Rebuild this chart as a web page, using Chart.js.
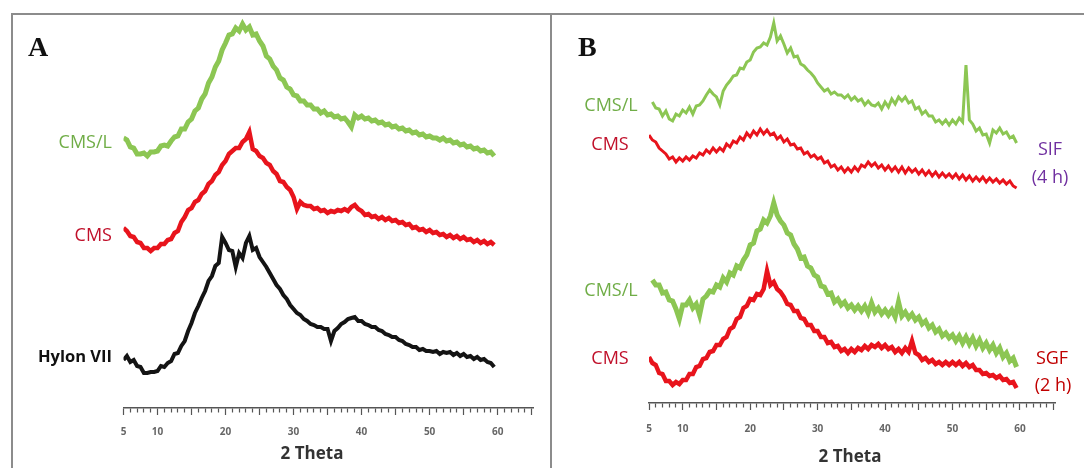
<!DOCTYPE html>
<html>
<head>
<meta charset="utf-8">
<script src="https://cdn.jsdelivr.net/npm/chart.js@4.4.1/dist/chart.umd.min.js"></script>
<style>
  html, body { margin: 0; padding: 0; background: #fff; }
  #wrap { position: relative; width: 1084px; height: 468px; overflow: hidden; background: #fff; font-family: "Open Sans", sans-serif; }
  canvas { position: absolute; }
  .frame { position: absolute; background: #8c8c8c; }
  .lbl { position: absolute; white-space: nowrap; transform: translate(-100%, -50%); font-size: 18px; line-height: 1; }
  .ctr { position: absolute; white-space: nowrap; transform: translate(-50%, -50%); font-size: 18px; line-height: 1; }
  .axt { position: absolute; white-space: nowrap; transform: translate(-50%, -50%); font-size: 17px; font-weight: bold; line-height: 1; color: #333; }
  .panel { position: absolute; font-family: "Liberation Serif", "Times New Roman", serif; font-weight: bold; font-size: 28px; line-height: 1; color: #111; }
</style>
</head>
<body>
<div id="wrap">
  <div class="frame" style="left:11px;top:13px;width:1073px;height:1.5px"></div>
  <div class="frame" style="left:11px;top:13px;width:1.5px;height:455px"></div>
  <div class="frame" style="left:550px;top:13px;width:1.5px;height:455px"></div>

  <canvas id="chartA" width="539" height="454" style="left:12px;top:14px"></canvas>
  <canvas id="chartB" width="533" height="454" style="left:551px;top:14px"></canvas>

  <div class="panel" style="left:28px;top:33px">A</div>
  <div class="panel" style="left:578px;top:33px">B</div>

  <div class="axt" style="left:312px;top:452px">2 Theta</div>
  <div class="axt" style="left:850px;top:455px">2 Theta</div>

  <div class="lbl" style="left:112px;top:141px;color:#70ad47">CMS/L</div>
  <div class="lbl" style="left:112px;top:234px;color:#c0102a">CMS</div>
  <div class="lbl" style="left:112px;top:356px;color:#111;font-weight:bold;font-size:16.5px">Hylon VII</div>

  <div class="ctr" style="left:611px;top:104px;color:#70ad47">CMS/L</div>
  <div class="ctr" style="left:610px;top:143px;color:#c0102a">CMS</div>
  <div class="ctr" style="left:611px;top:289px;color:#70ad47">CMS/L</div>
  <div class="ctr" style="left:610px;top:357px;color:#c0102a">CMS</div>

  <div class="ctr" style="left:1050px;top:148px;color:#7030a0">SIF</div>
  <div class="ctr" style="left:1050px;top:176px;color:#7030a0">(4 h)</div>
  <div class="ctr" style="left:1052px;top:357px;color:#c00000">SGF</div>
  <div class="ctr" style="left:1053px;top:384px;color:#c00000">(2 h)</div>
</div>

<script>
// 2θ sampling (degrees)
const twoTheta = [
  5, 5.5, 6, 6.5, 7, 7.5, 8, 8.5, 9, 9.5,
  10, 10.5, 11, 11.5, 12, 12.5, 13, 13.5, 14, 14.5,
  15, 15.5, 16, 16.5, 17, 17.5, 18, 18.5, 19, 19.5,
  20, 20.5, 21, 21.5, 22, 22.5, 23, 23.5, 24, 24.5,
  25, 25.5, 26, 26.5, 27, 27.5, 28, 28.5, 29, 29.5,
  30, 30.5, 31, 31.5, 32, 32.5, 33, 33.5, 34, 34.5,
  35, 35.5, 36, 36.5, 37, 37.5, 38, 38.5, 39, 39.5,
  40, 40.5, 41, 41.5, 42, 42.5, 43, 43.5, 44, 44.5,
  45, 45.5, 46, 46.5, 47, 47.5, 48, 48.5, 49, 49.5,
  50, 50.5, 51, 51.5, 52, 52.5, 53, 53.5, 54, 54.5,
  55, 55.5, 56, 56.5, 57, 57.5, 58, 58.5, 59, 59.5
];

// labelled positions on the 2θ axis
const tickLabels = [5, 10, 20, 30, 40, 50, 60];

// Panel A — stacked intensities (a.u.)
const cmsL_A = [
  270, 268, 261, 260, 254, 254, 255, 252, 256, 256,
  257, 262, 263, 262, 267, 271, 272, 279, 279, 286,
  289, 297, 300, 309, 314, 325, 331, 341, 347, 358,
  365, 373, 374, 380, 377, 384, 378, 381, 373, 374,
  367, 362, 352, 349, 342, 338, 330, 328, 321, 319,
  313, 312, 307, 307, 303, 303, 299, 299, 295, 297,
  293, 294, 291, 292, 289, 290, 286, 281, 293, 290,
  292, 289, 290, 287, 288, 285, 286, 283, 284, 281,
  282, 279, 280, 277, 278, 275, 276, 273, 274, 271,
  272, 270, 270, 268, 270, 267, 268, 265, 266, 263,
  264, 261, 262, 259, 260, 257, 258, 255, 256, 252
];
const cms_A = [
  180, 177, 172, 171, 166, 165, 160, 160, 157, 160,
  160, 164, 164, 168, 169, 175, 177, 186, 191, 198,
  200, 206, 208, 214, 217, 224, 227, 233, 236, 243,
  247, 254, 257, 260, 260, 266, 269, 276, 259, 257,
  252, 250, 245, 243, 237, 234, 227, 226, 221, 218,
  211, 199, 206, 203, 202, 202, 199, 200, 197, 198,
  195, 197, 196, 198, 197, 199, 197, 201, 203, 199,
  197, 193, 194, 191, 192, 189, 191, 188, 190, 187,
  188, 185, 186, 183, 184, 180, 181, 178, 179, 176,
  178, 175, 176, 173, 174, 171, 173, 170, 172, 169,
  171, 168, 169, 166, 168, 165, 167, 164, 166, 163
];
const hylonVII = [
  48, 52, 46, 48, 42, 41, 35, 35, 36, 36,
  37, 42, 41, 45, 47, 54, 55, 62, 67, 77,
  85, 95, 102, 110, 117, 127, 132, 142, 145, 171,
  165, 158, 157, 141, 155, 150, 165, 172, 158, 160,
  151, 146, 141, 135, 129, 123, 119, 113, 109, 103,
  99, 95, 93, 89, 87, 84, 83, 81, 81, 79,
  79, 67, 77, 80, 84, 86, 89, 90, 91, 87,
  87, 84, 83, 81, 81, 78, 77, 74, 73, 71,
  71, 68, 67, 64, 63, 61, 61, 58, 59, 57,
  57, 56, 57, 54, 56, 55, 56, 53, 55, 52,
  54, 51, 52, 49, 51, 48, 49, 46, 45, 41
];

// Panel B — after SIF (4 h) and SGF (2 h), stacked intensities (a.u.)
const cmsL_SIF = [
  null, 301, 295, 294, 287, 292, 284, 282, 289, 287,
  293, 290, 296, 289, 297, 298, 302, 308, 313, 309,
  306, 298, 312, 318, 322, 327, 328, 335, 334, 341,
  343, 351, 355, 356, 360, 358, 366, 380, 362, 367,
  359, 350, 355, 346, 347, 339, 337, 333, 330, 326,
  320, 316, 312, 314, 309, 311, 308, 308, 305, 308,
  303, 306, 302, 304, 298, 302, 298, 297, 300, 294,
  301, 296, 304, 299, 306, 302, 306, 300, 302, 294,
  296, 289, 292, 287, 287, 281, 283, 279, 283, 278,
  283, 279, 285, 281, 338, 283, 279, 272, 275, 268,
  269, 260, 273, 270, 275, 269, 271, 265, 267, 260
];
const cms_SIF = [
  268, 263, 261, 255, 252, 249, 244, 246, 241, 245,
  242, 246, 243, 247, 245, 250, 248, 253, 250, 255,
  251, 255, 252, 259, 256, 262, 260, 266, 263, 270,
  266, 272, 268, 274, 269, 273, 268, 270, 264, 267,
  261, 264, 258, 259, 254, 255, 249, 251, 246, 248,
  244, 246, 240, 242, 236, 238, 233, 236, 231, 235,
  231, 236, 232, 238, 236, 241, 237, 240, 235, 238,
  233, 237, 232, 236, 231, 236, 230, 235, 231, 234,
  229, 233, 228, 232, 227, 231, 226, 230, 226, 229,
  225, 229, 224, 228, 223, 227, 222, 226, 222, 226,
  221, 225, 221, 224, 220, 223, 219, 222, 217, 215
];
const cmsL_SGF = [
  null, 123, 118, 118, 110, 111, 103, 102, 94, 84,
  98, 98, 103, 95, 99, 88, 104, 107, 112, 111,
  118, 116, 125, 121, 130, 128, 137, 135, 143, 148,
  158, 160, 172, 174, 183, 180, 187, 200, 188, 182,
  178, 170, 168, 159, 154, 145, 146, 137, 135, 128,
  126, 117, 116, 109, 110, 101, 104, 98, 101, 95,
  98, 93, 97, 92, 97, 90, 100, 91, 95, 89,
  93, 88, 93, 86, 101, 87, 91, 85, 89, 83,
  86, 79, 82, 75, 78, 71, 74, 67, 70, 65,
  68, 62, 67, 60, 66, 59, 65, 57, 63, 55,
  60, 53, 58, 50, 55, 46, 50, 42, 45, 36
];
const cms_SGF = [
  46, 40, 38, 30, 29, 22, 22, 18, 21, 19,
  23, 23, 29, 29, 36, 37, 44, 45, 51, 52,
  58, 58, 64, 66, 74, 76, 84, 86, 95, 97,
  104, 103, 109, 108, 114, 132, 118, 121, 114, 111,
  106, 99, 98, 92, 92, 85, 84, 78, 78, 72,
  72, 66, 66, 60, 61, 56, 57, 52, 54, 50,
  54, 51, 55, 53, 57, 54, 58, 56, 59, 55,
  58, 54, 56, 51, 54, 50, 55, 51, 62, 50,
  48, 43, 45, 41, 43, 39, 41, 38, 41, 38,
  41, 38, 41, 37, 40, 36, 38, 33, 33, 29,
  30, 27, 28, 25, 27, 23, 24, 20, 21, 15
];

const GREEN = '#8cc653';
const RED = '#e8141c';
const BLACK = '#141414';

function series(values, color, width) {
  return {
    data: twoTheta.map((x, i) => ({ x: x, y: values[i] })),
    borderColor: color,
    borderWidth: width,
    borderJoinStyle: 'miter',
    pointRadius: 0,
    tension: 0,
    fill: false
  };
}

function makeChart(id, datasets, yMax, padding, tickPad) {
  return new Chart(document.getElementById(id), {
    type: 'line',
    data: { datasets: datasets },
    options: {
      responsive: false,
      animation: false,
      events: [],
      layout: { padding: padding },
      plugins: { legend: { display: false }, tooltip: { enabled: false } },
      scales: {
        x: {
          type: 'linear',
          min: 5,
          max: 65.2,
          border: { display: true, color: '#555', width: 1.5 },
          grid: {
            drawOnChartArea: false,
            drawTicks: true,
            tickLength: 7,
            tickColor: '#555',
            tickWidth: 1.2,
            tickBorderDash: (c) => (c.tick && c.tick.value % 5 === 0) ? [] : [4, 20]
          },
          ticks: {
            stepSize: 1,
            autoSkip: false,
            includeBounds: false,
            maxRotation: 0,
            minRotation: 0,
            padding: tickPad,
            color: '#666',
            font: { family: 'Open Sans', size: 10, weight: 'bold' },
            callback: (v) => tickLabels.includes(v) ? String(v) : ''
          },
          title: { display: false }
        },
        y: { display: false, min: 0, max: yMax }
      }
    }
  });
}

makeChart('chartA', [
  series(cmsL_A, GREEN, 5),
  series(cms_A, RED, 4.5),
  series(hylonVII, BLACK, 4)
], 394, { left: 111.5, right: 18, top: 0, bottom: 19 }, 11);

makeChart('chartB', [
  series(cmsL_SIF, GREEN, 3),
  series(cms_SIF, RED, 3),
  series(cmsL_SGF, GREEN, 5),
  series(cms_SGF, RED, 4.5)
], 389, { left: 98, right: 29, top: 0, bottom: 20 }, 13);
</script>
</body>
</html>
